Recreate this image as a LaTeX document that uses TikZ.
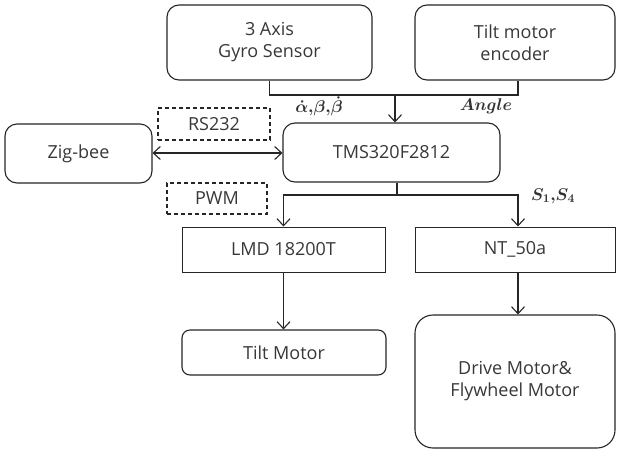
\documentclass[tikz,border=0pt]{standalone}
\usepackage{fix-cm}
\usepackage{fontspec}
\setmainfont{Open Sans}
\usetikzlibrary{arrows.meta}
\begin{document}
\begin{tikzpicture}[x=1pt,y=-1pt,
  every node/.style={font=\fontsize{18}{22}\selectfont, text=black!78},
  rbox/.style={draw=black!85, line width=1.1pt, rounded corners=12pt, align=center, inner sep=0pt},
  sbox/.style={draw=black!85, line width=1pt, align=center, inner sep=0pt},
  dbox/.style={draw=black!85, line width=1.1pt, dashed, dash pattern=on 4pt off 3pt, align=center, inner sep=0pt},
  conn/.style={draw=black!85, line width=1.1pt},
  tip/.tip={Straight Barb[length=7pt,width=13pt,line width=1.1pt]},
  arr/.style={conn, -tip},
  lbl/.style={font=\fontsize{17}{20}\selectfont\boldmath, text=black!80, inner sep=1pt}
]
\useasboundingbox (0,0) rectangle (617,453);
\fill[white] (0,0) rectangle (617,453);

\node[rbox, minimum width=205pt, minimum height=75pt] (gyro) at (269.5,42.5) {3 Axis\\Gyro Sensor};
\node[rbox, minimum width=200pt, minimum height=75pt] (enc) at (515,42.5) {Tilt motor\\encoder};
\node[rbox, minimum width=217pt, minimum height=59pt] (tms) at (391.5,152.5) {TMS320F2812};
\node[rbox, minimum width=147pt, minimum height=59pt] (zig) at (78.5,153.5) {Zig-bee};
\node[dbox, minimum width=112pt, minimum height=32pt] (rs) at (214,124) {RS232};
\node[dbox, minimum width=100pt, minimum height=31pt] (pwm) at (217,198.5) {PWM};
\node[sbox, minimum width=203pt, minimum height=45pt] (lmd) at (283.5,249.5) {LMD 18200T};
\node[sbox, minimum width=200pt, minimum height=45pt] (nt) at (515,249.5) {NT\_50a};
\node[rbox, rounded corners=8pt, minimum width=204pt, minimum height=45pt] (tilt) at (284,352.5) {Tilt Motor};
\node[rbox, rounded corners=18pt, minimum width=200pt, minimum height=133pt] (drive) at (515,381.5) {Drive Motor\&\\Flywheel Motor};

\coordinate (j1) at (395,95);
\coordinate (j2) at (397,195);

\draw[conn] (gyro.south) |- (j1) -| (enc.south -| 518,0);
\draw[arr] (j1) -- (j1 |- tms.north);
\draw[conn] (j2 |- tms.south) -- (j2);
\draw[arr] (j2) -| (lmd.north);
\draw[arr] (j2) -| (nt.north -| 518,0);
\draw[arr] (lmd.south) -- (lmd.south |- tilt.north);
\draw[arr] (nt.south -| 518,0) -- (drive.north -| 518,0);
\draw[conn, tip-tip] (zig.east |- 0,153) -- (tms.west |- 0,153);

\node[lbl] (la) at (319,106) {$\dot{\alpha}{,}\beta{,}\dot{\beta}$};
\node[lbl] (lb) at (486,106) {$Angle$};
\node[lbl] (lc) at (553,196) {$S_1{,}S_4$};
\end{tikzpicture}
\end{document}
